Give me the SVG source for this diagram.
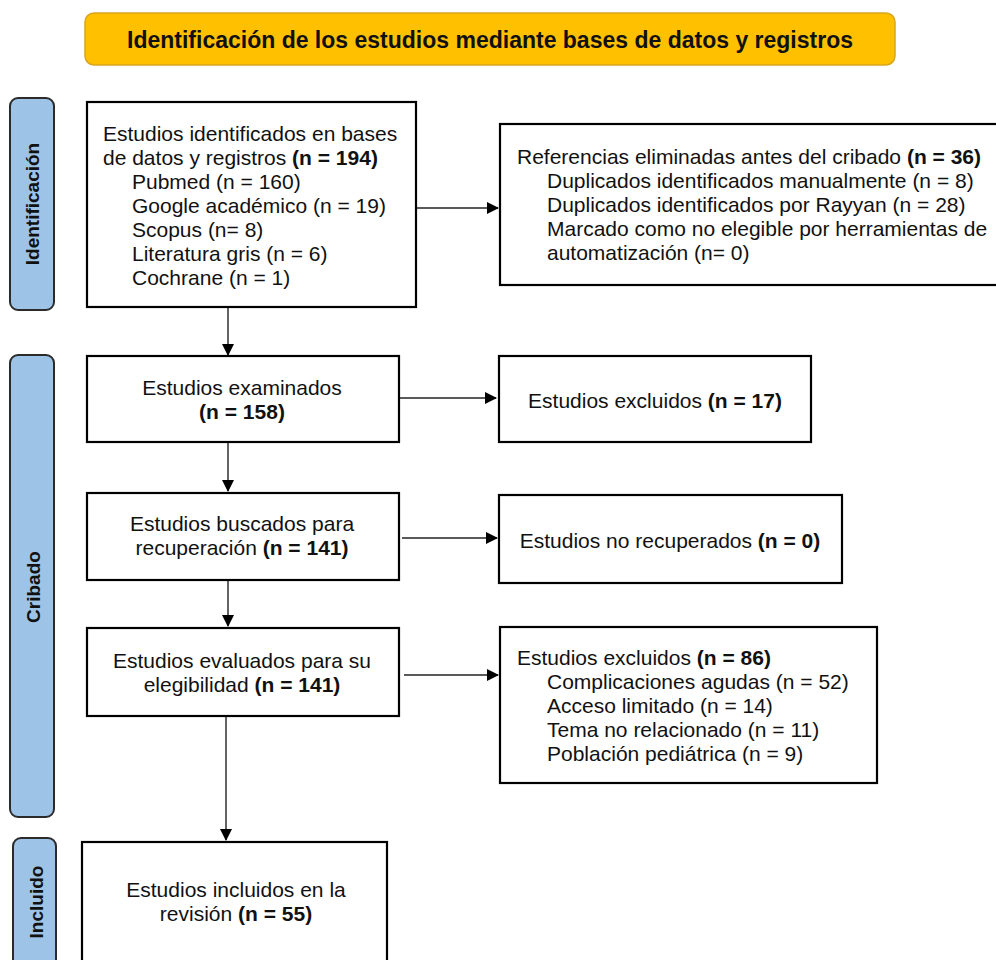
<svg xmlns="http://www.w3.org/2000/svg" width="996" height="960" viewBox="0 0 996 960">
<defs>
<marker id="ah" markerWidth="12" markerHeight="12" refX="11" refY="6" orient="auto" markerUnits="userSpaceOnUse">
<path d="M0,0 L12,6 L0,12 Z" fill="#000"/>
</marker>
<style>
text{font-family:"Liberation Sans",Arial,sans-serif;fill:#111;}
.t{font-size:21px;}
.b{font-weight:bold;}
.box{fill:#fff;stroke:#000;stroke-width:2.2;}
.side{fill:#9DC3E6;stroke:#2b2b2b;stroke-width:2;}
.sl{font-size:19px;font-weight:bold;}
.c{stroke:#222;stroke-width:1.4;fill:none;marker-end:url(#ah);}
.m{text-anchor:middle;}
</style>
</defs>
<rect width="996" height="960" fill="#fff"/>

<g id="title">
<rect x="85" y="13" width="810" height="52" rx="9" fill="#FFC000" stroke="#D9A520" stroke-width="1.5"/>
<text x="490" y="48" class="m b" font-size="23">Identificación de los estudios mediante bases de datos y registros</text>
</g>

<g id="lane-identificacion">
<rect x="10" y="98" width="44" height="212" rx="8" class="side"/>
<text class="sl m" transform="translate(39,204) rotate(-90)">Identificación</text>
</g>
<g id="lane-cribado">
<rect x="10" y="355" width="44" height="462" rx="8" class="side"/>
<text class="sl m" transform="translate(40,587) rotate(-90)">Cribado</text>
</g>
<g id="lane-incluido">
<rect x="13" y="838" width="43" height="140" rx="8" class="side"/>
<text class="sl m" transform="translate(43,902) rotate(-90)">Incluido</text>
</g>

<g id="n1">
<rect x="87" y="102" width="329" height="205" class="box"/>
<text class="t" x="103" y="141">Estudios identificados en bases</text>
<text class="t" x="103" y="165">de datos y registros <tspan class="b">(n = 194)</tspan></text>
<text class="t" x="132" y="189">Pubmed (n = 160)</text>
<text class="t" x="132" y="213">Google académico (n = 19)</text>
<text class="t" x="132" y="237">Scopus (n= 8)</text>
<text class="t" x="132" y="261">Literatura gris (n = 6)</text>
<text class="t" x="132" y="285">Cochrane (n = 1)</text>
</g>

<g id="n2">
<rect x="500" y="124" width="510" height="161" class="box"/>
<text class="t" x="517" y="164">Referencias eliminadas antes del cribado <tspan class="b">(n = 36)</tspan></text>
<text class="t" x="547" y="188">Duplicados identificados manualmente (n = 8)</text>
<text class="t" x="547" y="212">Duplicados identificados por Rayyan (n = 28)</text>
<text class="t" x="547" y="236">Marcado como no elegible por herramientas de</text>
<text class="t" x="547" y="260">automatización (n= 0)</text>
</g>

<g id="n3">
<rect x="87" y="356" width="312" height="86" class="box"/>
<text class="t m" x="242" y="395">Estudios examinados</text>
<text class="t m b" x="242" y="419">(n = 158)</text>
</g>

<g id="n4">
<rect x="499" y="356" width="312" height="86" class="box"/>
<text class="t m" x="655" y="408">Estudios excluidos <tspan class="b">(n = 17)</tspan></text>
</g>

<g id="n5">
<rect x="87" y="493" width="312" height="87" class="box"/>
<text class="t m" x="242" y="531">Estudios buscados para</text>
<text class="t m" x="242" y="555">recuperación <tspan class="b">(n = 141)</tspan></text>
</g>

<g id="n6">
<rect x="499" y="495" width="343" height="88" class="box"/>
<text class="t m" x="670" y="548">Estudios no recuperados <tspan class="b">(n = 0)</tspan></text>
</g>

<g id="n7">
<rect x="87" y="628" width="312" height="88" class="box"/>
<text class="t m" x="242" y="668">Estudios evaluados para su</text>
<text class="t m" x="242" y="692">elegibilidad <tspan class="b">(n = 141)</tspan></text>
</g>

<g id="n8">
<rect x="500" y="627" width="377" height="156" class="box"/>
<text class="t" x="517" y="665">Estudios excluidos <tspan class="b">(n = 86)</tspan></text>
<text class="t" x="547" y="689">Complicaciones agudas (n = 52)</text>
<text class="t" x="547" y="713">Acceso limitado (n = 14)</text>
<text class="t" x="547" y="737">Tema no relacionado (n = 11)</text>
<text class="t" x="547" y="761">Población pediátrica (n = 9)</text>
</g>

<g id="n9">
<rect x="82" y="842" width="305" height="140" class="box"/>
<text class="t m" x="236" y="897">Estudios incluidos en la</text>
<text class="t m" x="236" y="921">revisión <tspan class="b">(n = 55)</tspan></text>
</g>

<g id="connectors">
<line x1="417" y1="208" x2="498" y2="208" class="c"/>
<line x1="228" y1="308" x2="228" y2="355" class="c"/>
<line x1="400" y1="398" x2="496" y2="398" class="c"/>
<line x1="228" y1="443" x2="228" y2="491" class="c"/>
<line x1="402" y1="538" x2="497" y2="538" class="c"/>
<line x1="228" y1="581" x2="228" y2="626" class="c"/>
<line x1="404" y1="675" x2="498" y2="675" class="c"/>
<line x1="226" y1="717" x2="226" y2="840" class="c"/>
</g>
</svg>
